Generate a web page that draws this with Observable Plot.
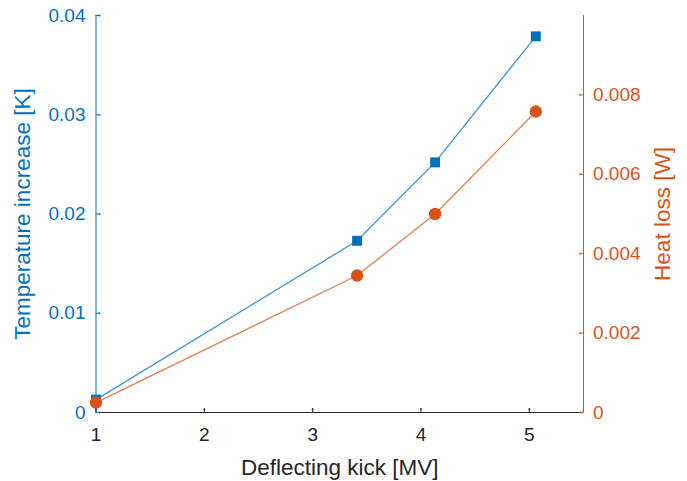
<!DOCTYPE html>
<html>
<head>
<meta charset="utf-8">
<script src="https://cdn.jsdelivr.net/npm/d3@7"></script>
<script src="https://cdn.jsdelivr.net/npm/@observablehq/plot@0.6"></script>
<style>
  body { margin: 0; background: #fff; }
  #wrap { position: relative; width: 687px; height: 481px; }
  #wrap svg { position: absolute; left: 0; top: 0; }
</style>
</head>
<body>
<div id="wrap"></div>
<script>
// Data
const kick = [1, 3.41, 4.13, 5.06];                    // Deflecting kick [MV]
const tempIncrease = [0.0013, 0.0173, 0.0252, 0.0379]; // Temperature increase [K]
const heatLoss = [0.00025, 0.00345, 0.0050, 0.00758];  // Heat loss [W]

const xDomain = [1, 5.5];
const yLeftDomain = [0, 0.04];
const yRightDomain = [0, 0.01];
const xTicks = [1, 2, 3, 4, 5];
const yLeftTicks = [0, 0.01, 0.02, 0.03, 0.04];
const yRightTicks = [0, 0.002, 0.004, 0.006, 0.008];

const xLabel = "Deflecting kick [MV]";
const yLeftLabel = "Temperature increase [K]";
const yRightLabel = "Heat loss [W]";

const blue = "#0072BD";
const orange = "#D95319";
const dark = "#262626";
const font = "'Liberation Sans', Arial, Helvetica, sans-serif";
const tickFont = 19;
const labelFont = 22.5;

const W = 687, H = 481;
const margins = {marginLeft: 95.5, marginRight: 104, marginTop: 15, marginBottom: 69};

const tempData = kick.map((k, i) => ({x: k, y: tempIncrease[i]}));
const heatData = kick.map((k, i) => ({x: k, y: heatLoss[i]}));

const fmt = d => String(+d.toFixed(4));

const plot1 = Plot.plot({
  width: W, height: H, ...margins,
  style: {background: "transparent", fontFamily: font, fontSize: tickFont + "px"},
  x: {domain: xDomain},
  y: {domain: yLeftDomain},
  marks: [
    // axis lines
    Plot.ruleY([yLeftDomain[0]], {stroke: dark, strokeWidth: 1}),
    Plot.ruleX([xDomain[0]], {stroke: blue, strokeWidth: 1}),
    // inward ticks
    Plot.vector(xTicks, {x: d => d, frameAnchor: "bottom", length: 4, rotate: 0, anchor: "start", stroke: dark, strokeWidth: 1}),
    Plot.vector(yLeftTicks, {y: d => d, frameAnchor: "left", length: 4, rotate: 90, anchor: "start", stroke: blue, strokeWidth: 1}),
    // tick labels
    Plot.axisX({ticks: xTicks, tickSize: 0, tickPadding: 15, tickFormat: d => String(d), fill: dark, label: null, fontSize: tickFont}),
    Plot.axisY({anchor: "left", ticks: yLeftTicks, tickSize: 0, tickPadding: 10.5, tickFormat: fmt, fill: blue, label: null, fontSize: tickFont}),
    // axis titles
    Plot.text([xLabel], {text: d => d, frameAnchor: "bottom", textAnchor: "middle", lineAnchor: "middle", dy: 54.8, fill: dark, fontSize: labelFont}),
    Plot.text([yLeftLabel], {text: d => d, frameAnchor: "left", textAnchor: "middle", lineAnchor: "middle", dx: -73.5, rotate: -90, fill: blue, fontSize: labelFont}),
    // series
    Plot.line(tempData, {x: "x", y: "y", stroke: blue, strokeWidth: 1.3, strokeOpacity: 0.75}),
    Plot.dot(tempData, {x: "x", y: "y", symbol: "square", r: 5.6, fill: blue, stroke: "none"})
  ]
});

const plot2 = Plot.plot({
  width: W, height: H, ...margins,
  style: {background: "transparent", fontFamily: font, fontSize: tickFont + "px"},
  x: {domain: xDomain, axis: null},
  y: {domain: yRightDomain, axis: null},
  marks: [
    Plot.ruleX([xDomain[1]], {stroke: orange, strokeWidth: 1}),
    Plot.vector(yRightTicks, {y: d => d, frameAnchor: "right", length: 4, rotate: -90, anchor: "start", stroke: orange, strokeWidth: 1}),
    Plot.axisY({anchor: "right", ticks: yRightTicks, tickSize: 0, tickPadding: 9.5, tickFormat: fmt, fill: orange, label: null, fontSize: tickFont}),
    Plot.text([yRightLabel], {text: d => d, frameAnchor: "right", textAnchor: "middle", lineAnchor: "middle", dx: 79, rotate: -90, fill: orange, fontSize: labelFont}),
    Plot.line(heatData, {x: "x", y: "y", stroke: orange, strokeWidth: 1.3, strokeOpacity: 0.75}),
    Plot.dot(heatData, {x: "x", y: "y", symbol: "circle", r: 6.2, fill: orange, stroke: "none"})
  ]
});

const wrap = document.getElementById("wrap");
wrap.appendChild(plot1);
wrap.appendChild(plot2);
</script>
</body>
</html>
